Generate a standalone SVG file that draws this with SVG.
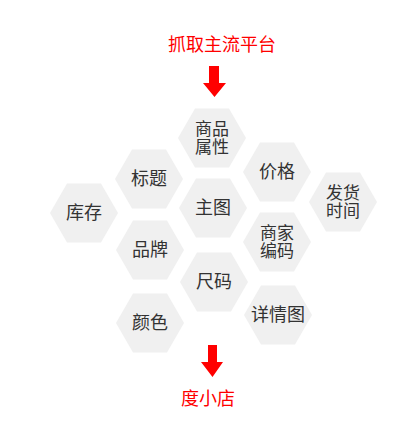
<svg xmlns="http://www.w3.org/2000/svg" xmlns:xlink="http://www.w3.org/1999/xlink" width="400" height="427" viewBox="0 0 400 427">
<style>
.hex{fill:#f0f0f0}
.lbl{font-family:"Noto Sans CJK SC","Noto Sans",sans-serif;font-size:18px;fill:#333;text-anchor:middle}
.two{font-size:17px}
.red{font-family:"Noto Sans CJK SC","Noto Sans",sans-serif;font-size:18px;fill:#f00;text-anchor:middle}
.arr{fill:#f00}
</style>
<defs>
<polygon id="hex" points="-34,0 -17,-29.5 17,-29.5 34,0 17,29.5 -17,29.5"/>
</defs>
<rect width="400" height="427" fill="#fff"/>
<g id="title"><text class="red" x="222" y="51">抓取主流平台</text></g>
<g id="connectors">
<path class="arr" d="M209,66 H219 V83 H226 L214.5,97 L203,83 H209 Z"/>
<path class="arr" d="M208,345 H217 V362 H223 L212.5,377 L201,362 H208 Z"/>
</g>
<g id="n-shuxing"><use xlink:href="#hex" class="hex" x="212" y="138"/><text class="lbl two" x="212" y="135">商品</text><text class="lbl two" x="212" y="153">属性</text></g>
<g id="n-biaoti"><use xlink:href="#hex" class="hex" x="149" y="179"/><text class="lbl" x="149" y="185">标题</text></g>
<g id="n-kucun"><use xlink:href="#hex" class="hex" x="84" y="213"/><text class="lbl" x="84" y="219">库存</text></g>
<g id="n-zhutu"><use xlink:href="#hex" class="hex" x="213" y="208"/><text class="lbl" x="213" y="214">主图</text></g>
<g id="n-pinpai"><use xlink:href="#hex" class="hex" x="150" y="250"/><text class="lbl" x="150" y="256">品牌</text></g>
<g id="n-jiage"><use xlink:href="#hex" class="hex" x="277" y="172"/><text class="lbl" x="277" y="178">价格</text></g>
<g id="n-fahuo"><use xlink:href="#hex" class="hex" x="343" y="202"/><text class="lbl two" x="343" y="199">发货</text><text class="lbl two" x="343" y="217">时间</text></g>
<g id="n-bianma"><use xlink:href="#hex" class="hex" x="277" y="242"/><text class="lbl two" x="277" y="239">商家</text><text class="lbl two" x="277" y="257">编码</text></g>
<g id="n-chima"><use xlink:href="#hex" class="hex" x="214" y="282"/><text class="lbl" x="214" y="288">尺码</text></g>
<g id="n-yanse"><use xlink:href="#hex" class="hex" x="150" y="323"/><text class="lbl" x="150" y="329">颜色</text></g>
<g id="n-xiangqing"><use xlink:href="#hex" class="hex" x="278" y="315"/><text class="lbl" x="278" y="321">详情图</text></g>
<g id="footer"><text class="red" x="208" y="405">度小店</text></g>
</svg>
